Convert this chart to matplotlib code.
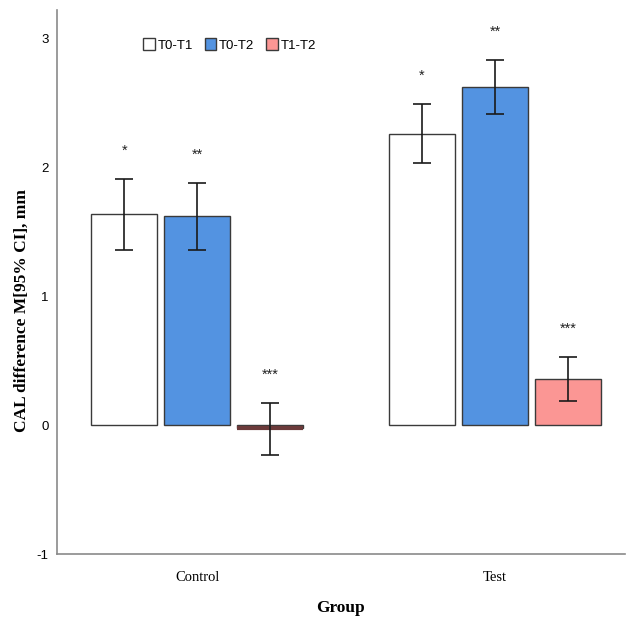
import matplotlib.pyplot as plt
import numpy as np

plt.rcParams['axes.unicode_minus'] = False

groups = ['Control', 'Test']
series = ['T0-T1', 'T0-T2', 'T1-T2']
means = {
    'T0-T1': [1.64, 2.26],
    'T0-T2': [1.62, 2.62],
    'T1-T2': [-0.02, 0.36],
}
ci_low = {
    'T0-T1': [1.36, 2.03],
    'T0-T2': [1.36, 2.41],
    'T1-T2': [-0.23, 0.19],
}
ci_high = {
    'T0-T1': [1.91, 2.49],
    'T0-T2': [1.88, 2.83],
    'T1-T2': [0.17, 0.53],
}
stars = {'T0-T1': '*', 'T0-T2': '**', 'T1-T2': '***'}
colors = {'T0-T1': '#ffffff', 'T0-T2': '#5393e1', 'T1-T2': '#fb9694'}

fig = plt.figure(figsize=(6.35, 6.22), dpi=100)
ax = fig.add_axes([0.09, 0.109, 0.894, 0.875])

x = np.arange(len(groups))
width = 0.2215
step = 0.245
handles = []
for i, s in enumerate(series):
    pos = x + (i - 1) * step
    m = np.array(means[s])
    lo = m - np.array(ci_low[s])
    hi = np.array(ci_high[s]) - m
    b = ax.bar(pos, m, width, color=colors[s], edgecolor='#3a3a3a', linewidth=1.0, label=s)
    handles.append(b)
    ax.errorbar(pos, m, yerr=[lo, hi], fmt='none', ecolor='#1a1a1a', elinewidth=1.2,
                capsize=6.5, capthick=1.2)
    for p, top in zip(pos, ci_high[s]):
        ax.text(p, top + 0.22, stars[s], ha='center', va='center', fontsize=10.5,
                fontfamily='Liberation Sans', color='#222222')

# thin bar near zero drawn as a thick line
ax.hlines(means['T1-T2'][0], x[0] + step - width / 2, x[0] + step + width / 2,
          color='#6b3a3a', linewidth=3, zorder=1.5)

ax.set_xlim(-0.47, 1.436)
ax.set_ylim(-1, 3.22)
ax.set_yticks([-1, 0, 1, 2, 3])
ax.set_xticks(x)
ax.set_xticklabels(groups, fontfamily='Liberation Serif', fontsize=10.5)
for t in ax.get_yticklabels():
    t.set_fontfamily('Liberation Sans')
    t.set_fontsize(9.5)
ax.tick_params(length=0, pad=12)
ax.tick_params(axis='y', pad=6)
for sp in ['top', 'right']:
    ax.spines[sp].set_visible(False)
for sp in ['left', 'bottom']:
    ax.spines[sp].set_color('#8a8a8a')
    ax.spines[sp].set_linewidth(1.2)

fig.text(22 / 635, 1 - 311 / 622, 'CAL difference M[95% CI], mm', rotation=90,
         ha='center', va='center', fontfamily='Liberation Serif', fontweight='bold', fontsize=12.5)
fig.text(340 / 635, 1 - 608 / 622, 'Group', ha='center', va='center',
         fontfamily='Liberation Serif', fontweight='bold', fontsize=12.5)

leg = ax.legend(handles=handles, labels=series, loc='upper left', bbox_to_anchor=(0.13, 0.97),
                ncol=3, frameon=False, handlelength=0.9, handleheight=1.0, handletextpad=0.2,
                columnspacing=0.9, prop={'family': 'Liberation Sans', 'size': 9.5})

fig.savefig('out.png', dpi=100)
